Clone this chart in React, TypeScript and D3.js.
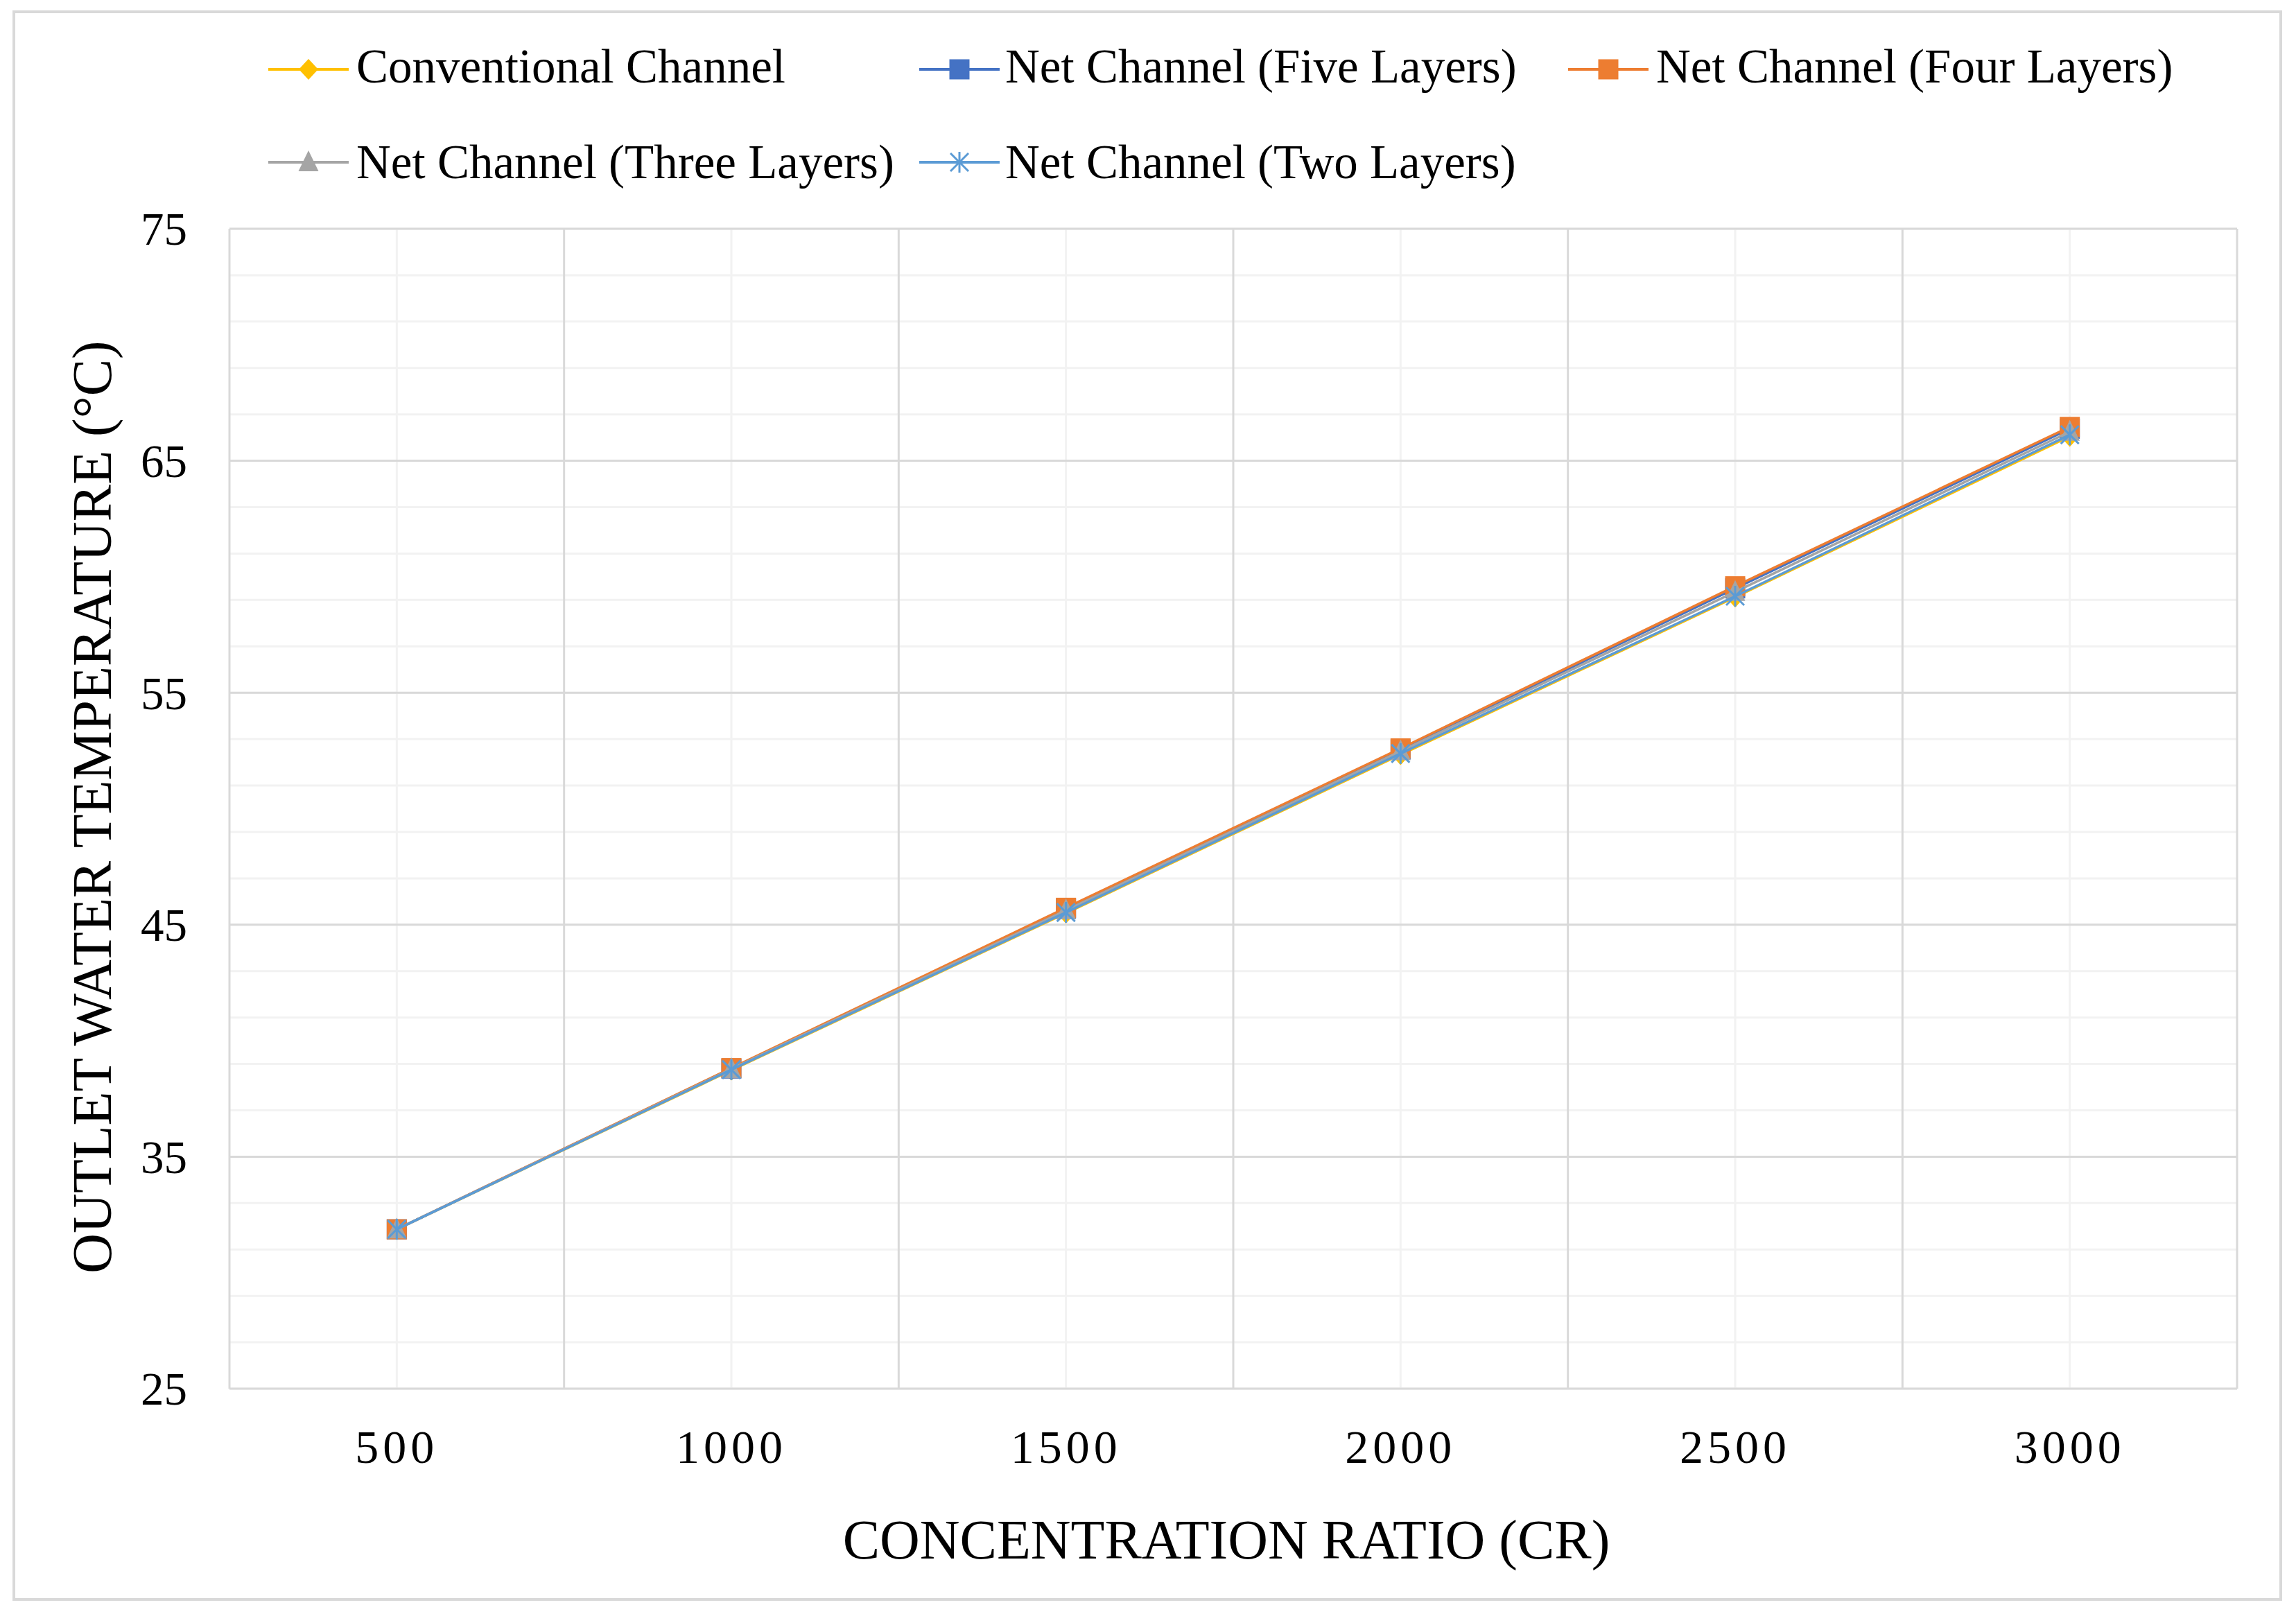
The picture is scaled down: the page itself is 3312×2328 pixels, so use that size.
import React from "react";
import * as d3 from "d3";

const W = 3312;
const H = 2328;

const crValues = [500, 1000, 1500, 2000, 2500, 3000];
const conventional = [31.87, 38.73, 45.5, 52.33, 59.12, 66.05];
const fiveLayers = [31.87, 38.8, 45.7, 52.55, 59.5, 66.38];
const fourLayers = [31.87, 38.82, 45.73, 52.6, 59.59, 66.46];
const threeLayers = [31.87, 38.78, 45.62, 52.48, 59.35, 66.25];
const twoLayers = [31.87, 38.75, 45.53, 52.38, 59.16, 66.12];

const seriesNames = [
  "Conventional Channel",
  "Net Channel (Five Layers)",
  "Net Channel (Four Layers)",
  "Net Channel (Three Layers)",
  "Net Channel (Two Layers)",
];
const seriesColors = ["#FFC000", "#4472C4", "#ED7D31", "#A5A5A5", "#5B9BD5"];
const seriesMarkers = ["diamond", "square", "square", "triangle", "star"];
const seriesValues = [conventional, fiveLayers, fourLayers, threeLayers, twoLayers];

const xTickLabels = [500, 1000, 1500, 2000, 2500, 3000];
const yTickLabels = [25, 35, 45, 55, 65, 75];
const xMajorGrid = [250, 750, 1250, 1750, 2250, 2750, 3250];
const xMinorGrid = [500, 1000, 1500, 2000, 2500, 3000];

const FONT = "'Liberation Serif', 'Times New Roman', serif";

const plot = { left: 331, right: 3227, top: 330, bottom: 2003 };

function Marker({ type, color, x, y }: { type: string; color: string; x: number; y: number }) {
  if (type === "diamond") {
    return <path d="M0,-15L14,0L0,15L-14,0Z" transform={`translate(${x},${y})`} fill={color} />;
  }
  if (type === "square") {
    return <rect x={x - 14.5} y={y - 14.5} width={29} height={29} fill={color} />;
  }
  if (type === "triangle") {
    return <path d="M0,-17L14.5,13L-14.5,13Z" transform={`translate(${x},${y})`} fill={color} />;
  }
  return (
    <g transform={`translate(${x},${y})`} stroke={color} strokeWidth={3}>
      <line x1={0} y1={-15} x2={0} y2={15} />
      <line x1={-13} y1={-13} x2={13} y2={13} />
      <line x1={-13} y1={13} x2={13} y2={-13} />
    </g>
  );
}

export default function App() {
  const x = d3.scaleLinear().domain([250, 3250]).range([plot.left, plot.right]);
  const y = d3.scaleLinear().domain([25, 75]).range([plot.bottom, plot.top]);
  const yMinor = d3.range(25, 75.01, 2);

  const line = d3
    .line<[number, number]>()
    .x((d) => x(d[0]))
    .y((d) => y(d[1]));

  const legendItems = [
    { i: 0, lx: 387, tx: 514, ly: 100, ty: 119 },
    { i: 1, lx: 1326, tx: 1450, ly: 100, ty: 119 },
    { i: 2, lx: 2262, tx: 2389, ly: 100, ty: 119 },
    { i: 3, lx: 387, tx: 514, ly: 234, ty: 257 },
    { i: 4, lx: 1326, tx: 1450, ly: 234, ty: 257 },
  ];

  return (
    <svg
      width={W}
      height={H}
      viewBox={`0 0 ${W} ${H}`}
      style={{ position: "absolute", left: 0, top: 0, display: "block", background: "#fff" }}
    >
      <rect x={0} y={0} width={W} height={H} fill="#fff" />
      <rect x={20} y={17} width={3270} height={2290} fill="#fff" stroke="#d9d9d9" strokeWidth={4} />

      {yMinor.map((v) => (
        <line key={"ym" + v} x1={plot.left} x2={plot.right} y1={y(v)} y2={y(v)} stroke="#f2f2f2" strokeWidth={3} />
      ))}
      {xMinorGrid.map((v) => (
        <line key={"xm" + v} x1={x(v)} x2={x(v)} y1={plot.top} y2={plot.bottom} stroke="#f2f2f2" strokeWidth={3} />
      ))}
      {yTickLabels.map((v) => (
        <line key={"yM" + v} x1={plot.left} x2={plot.right} y1={y(v)} y2={y(v)} stroke="#d9d9d9" strokeWidth={3} />
      ))}
      {xMajorGrid.map((v) => (
        <line key={"xM" + v} x1={x(v)} x2={x(v)} y1={plot.top} y2={plot.bottom} stroke="#d9d9d9" strokeWidth={3} />
      ))}

      {seriesValues.map((vals, si) => {
        const pts = crValues.map((c, k) => [c, vals[k]] as [number, number]);
        return (
          <g key={"s" + si}>
            <path d={line(pts) || ""} fill="none" stroke={seriesColors[si]} strokeWidth={3.5} strokeLinejoin="round" />
            {pts.map((p, k) => (
              <Marker key={k} type={seriesMarkers[si]} color={seriesColors[si]} x={x(p[0])} y={y(p[1])} />
            ))}
          </g>
        );
      })}

      {yTickLabels.map((v) => (
        <text key={"yt" + v} x={270} y={y(v)} dy="0.35em" textAnchor="end" fontFamily={FONT} fontSize={67} fill="#000">
          {v}
        </text>
      ))}
      {xTickLabels.map((v) => (
        <text
          key={"xt" + v}
          x={x(v)}
          y={2110}
          textAnchor="middle"
          fontFamily={FONT}
          fontSize={68}
          letterSpacing={6}
          fill="#000"
        >
          {v}
        </text>
      ))}

      <text x={1769} y={2248} textAnchor="middle" fontFamily={FONT} fontSize={80} fill="#000">
        CONCENTRATION RATIO (CR)
      </text>
      <text transform={`translate(160,1164) rotate(-90)`} textAnchor="middle" fontFamily={FONT} fontSize={80} fill="#000">
        OUTLET WATER TEMPERATURE (°C)
      </text>

      {legendItems.map((it) => (
        <g key={"lg" + it.i}>
          <line x1={it.lx} x2={it.lx + 116} y1={it.ly} y2={it.ly} stroke={seriesColors[it.i]} strokeWidth={4} />
          <Marker type={seriesMarkers[it.i]} color={seriesColors[it.i]} x={it.lx + 58} y={it.ly} />
          <text x={it.tx} y={it.ty} fontFamily={FONT} fontSize={69} fill="#000">
            {seriesNames[it.i]}
          </text>
        </g>
      ))}
    </svg>
  );
}
